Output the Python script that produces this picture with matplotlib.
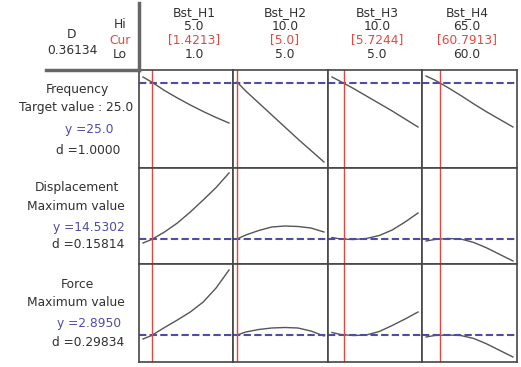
import matplotlib
matplotlib.use("Agg")
from matplotlib import pyplot as plt

# factors (columns)
factors = ["Bst_H1", "Bst_H2", "Bst_H3", "Bst_H4"]
f_hi = [5.0, 10.0, 10.0, 65.0]
f_lo = [1.0, 5.0, 5.0, 60.0]
f_cur = [1.4213, 5.0, 5.7244, 60.7913]
f_cur_txt = ["[1.4213]", "[5.0]", "[5.7244]", "[60.7913]"]

# responses (rows)
resp_name = ["Frequency", "Displacement", "Force"]
resp_goal = ["Target value : 25.0", "Maximum value", "Maximum value"]
resp_y = ["y =25.0", "y =14.5302", "y =2.8950"]
resp_d = ["d =1.0000", "d =0.15814", "d =0.29834"]
resp_cur = [25.0, 14.5302, 2.8950]
resp_lim = [(16.5, 26.3), (12.03, 21.63), (2.355, 4.315)]
D_val = "0.36134"

# sample positions along each factor range (fraction lo -> hi)
frac = [0.0, 0.1, 0.25, 0.4, 0.55, 0.7, 0.85, 1.0]

freq = [
    [25.6, 25.1, 24.25, 23.5, 22.8, 22.15, 21.55, 21.0],
    [25.1, 24.2, 23.0, 21.8, 20.6, 19.4, 18.25, 17.1],
    [25.6, 25.15, 24.45, 23.7, 22.95, 22.2, 21.4, 20.6],
    [25.7, 25.3, 24.55, 23.75, 22.9, 22.1, 21.35, 20.6],
]
disp = [
    [14.13, 14.48, 15.23, 16.13, 17.23, 18.43, 19.68, 21.13],
    [14.53, 14.93, 15.38, 15.73, 15.83, 15.78, 15.63, 15.23],
    [14.68, 14.53, 14.48, 14.58, 14.88, 15.43, 16.23, 17.13],
    [14.33, 14.48, 14.58, 14.53, 14.18, 13.63, 12.98, 12.33],
]
force = [
    [2.815, 2.885, 3.045, 3.195, 3.355, 3.555, 3.835, 4.195],
    [2.895, 2.955, 3.005, 3.035, 3.045, 3.035, 2.975, 2.875],
    [2.945, 2.905, 2.885, 2.895, 2.965, 3.085, 3.215, 3.355],
    [2.855, 2.885, 2.895, 2.885, 2.825, 2.715, 2.585, 2.455],
]
curves = [freq, disp, force]

W, H = 521, 367
col_edges = [139, 233, 328, 422, 517]
row_edges = [70, 168, 264, 362]

grid_c = '#464646'
red = '#e5473f'
blue = '#4e4ca6'
curve_c = '#555555'

fig = plt.figure(figsize=(W/100, H/100), dpi=100)
fig.patch.set_facecolor('white')

def fx(x):
    return x / W

def fy(y):
    return 1 - y / H

def txt(x, y, s, color='#303030', ha='center', size=8.8):
    fig.text(fx(x), fy(y), s, color=color, ha=ha, va='center', fontsize=size,
             family='DejaVu Sans')

for r in range(3):
    for c in range(4):
        x0, x1 = col_edges[c], col_edges[c+1]
        y0, y1 = row_edges[r], row_edges[r+1]
        ax = fig.add_axes([fx(x0), fy(y1), (x1-x0)/W, (y1-y0)/H])
        lo, hi = f_lo[c], f_hi[c]
        m = 4.0 / 86 * (hi - lo)
        ax.set_xlim(lo - m, hi + m)
        ax.set_ylim(*resp_lim[r])
        xs = [lo + f*(hi - lo) for f in frac]
        ax.plot(xs, curves[r][c], color=curve_c, lw=1.0)
        ax.axhline(resp_cur[r], color=blue, lw=1.5, ls=(0, (3.5, 1.6)))
        ax.axvline(f_cur[c], color=red, lw=1.0)
        ax.set_xticks([])
        ax.set_yticks([])
        for s in ax.spines.values():
            s.set_color(grid_c)
            s.set_linewidth(1.2)

# header separators
fig.add_artist(plt.Line2D([fx(139), fx(139)], [fy(3), fy(70)], color='#666666', lw=2.5))
fig.add_artist(plt.Line2D([fx(46), fx(139)], [fy(70), fy(70)], color='#666666', lw=2.5))

# header text
txt(72, 35, "D")
txt(72, 50, D_val)
txt(120, 25, "Hi")
txt(120, 40, "Cur", color=red)
txt(120, 55, "Lo")

head_x = [194, 285, 377, 467]
for c in range(4):
    txt(head_x[c], 13, factors[c])
    txt(head_x[c], 26, "%.1f" % f_hi[c])
    txt(head_x[c], 40, f_cur_txt[c], color=red)
    txt(head_x[c], 55, "%.1f" % f_lo[c])

# row labels
row_txt_y = [(90, 108, 130, 150), (188, 207, 227, 245), (284, 302, 323, 343)]
for r in range(3):
    a, b, cy, dy = row_txt_y[r]
    txt(77, a, resp_name[r])
    txt(76, b, resp_goal[r])
    txt(89, cy, resp_y[r], color=blue)
    txt(88, dy, resp_d[r])

fig.savefig("out.png", dpi=100, facecolor='white')
